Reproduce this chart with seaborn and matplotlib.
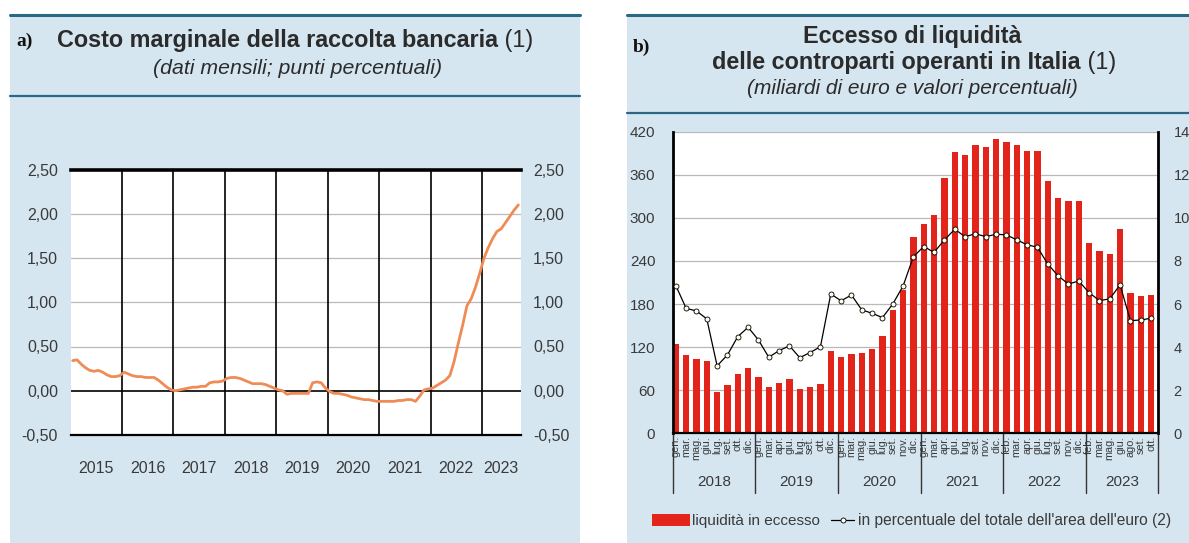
import numpy as np
import pandas as pd
import matplotlib
matplotlib.use("Agg")
import matplotlib.pyplot as plt
import seaborn as sns
from matplotlib.patches import Rectangle
from matplotlib.lines import Line2D
from matplotlib.ticker import FuncFormatter, FixedLocator

# ---------------- Panel a data (monthly, Jan 2015 - Sep 2023) ----------------
cost_years = ["2015", "2016", "2017", "2018", "2019", "2020", "2021", "2022", "2023"]
cost_values = [
    0.34, 0.35, 0.30, 0.26, 0.23, 0.22, 0.23, 0.21, 0.18, 0.16, 0.16, 0.17,   # 2015
    0.21, 0.19, 0.17, 0.16, 0.16, 0.15, 0.15, 0.15, 0.12, 0.08, 0.04, 0.01,   # 2016
    0.00, 0.01, 0.02, 0.03, 0.04, 0.04, 0.05, 0.05, 0.09, 0.10, 0.10, 0.11,   # 2017
    0.14, 0.15, 0.15, 0.14, 0.12, 0.10, 0.08, 0.08, 0.08, 0.07, 0.05, 0.03,   # 2018
    0.01, 0.00, -0.04, -0.03, -0.03, -0.03, -0.03, -0.03, 0.09, 0.10, 0.09, 0.03,  # 2019
    -0.01, -0.03, -0.03, -0.04, -0.05, -0.07, -0.08, -0.09, -0.10, -0.10, -0.11, -0.12,  # 2020
    -0.12, -0.12, -0.12, -0.12, -0.11, -0.11, -0.10, -0.10, -0.12, -0.06, 0.01, 0.02,  # 2021
    0.03, 0.06, 0.09, 0.12, 0.17, 0.33, 0.54, 0.74, 0.96, 1.04, 1.17, 1.33,   # 2022
    1.50, 1.62, 1.72, 1.80, 1.83, 1.90, 1.97, 2.04, 2.10,                     # 2023
]
cost_yticks = [-0.5, 0.0, 0.5, 1.0, 1.5, 2.0, 2.5]

# ---------------- Panel b data (reserve maintenance periods) ----------------
liq_years = ["2018", "2019", "2020", "2021", "2022", "2023"]
liq_counts = [8, 8, 8, 8, 8, 7]
liq_months = [
    "gen.", "mar.", "mag.", "giu.", "lug.", "set.", "ott.", "dic.",
    "gen.", "mar.", "apr.", "giu.", "lug.", "set.", "ott.", "dic.",
    "gen.", "mar.", "mag.", "giu.", "lug.", "set.", "nov.", "dic.",
    "gen.", "mar.", "apr.", "giu.", "lug.", "set.", "nov.", "dic.",
    "feb.", "mar.", "apr.", "giu.", "lug.", "set.", "nov.", "dic.",
    "feb.", "mar.", "mag.", "giu.", "ago.", "set.", "ott.",
]
liq_values = [
    125, 109, 103, 100, 57, 67, 83, 91,
    78, 65, 70, 75, 62, 65, 68, 115,
    106, 111, 112, 118, 136, 172, 200, 274,
    292, 304, 355, 392, 388, 402, 399, 410,
    405, 402, 393, 393, 351, 328, 323, 324,
    265, 254, 250, 285, 195, 191, 193,
]
liq_pct = [
    6.86, 5.80, 5.68, 5.31, 3.13, 3.64, 4.49, 4.92,
    4.33, 3.53, 3.84, 4.06, 3.51, 3.75, 4.02, 6.47,
    6.15, 6.42, 5.73, 5.57, 5.37, 6.00, 6.84, 8.20,
    8.67, 8.40, 8.98, 9.47, 9.13, 9.26, 9.13, 9.24,
    9.21, 8.98, 8.75, 8.64, 7.86, 7.31, 6.93, 7.07,
    6.53, 6.16, 6.24, 6.89, 5.23, 5.26, 5.34,
]
liq_left_ticks = [0, 60, 120, 180, 240, 300, 360, 420]
liq_right_ticks = [0, 2, 4, 6, 8, 10, 12, 14]

# ---------------- style ----------------
sns.set_theme(style="white")
plt.rcParams["font.family"] = ["Liberation Sans", "DejaVu Sans"]

W, H = 1189, 543
fig = plt.figure(figsize=(W / 100, H / 100), dpi=100)
fig.patch.set_facecolor("white")

PANEL = "#d5e6f1"
HEAD_LINE = "#2d6786"
TXT = "#2b2b2b"
TICK = "#3a3a3a"
RED = "#e3241b"
ORANGE = "#ef8c56"


def fx(px):
    return px / W


def fy(py):
    return 1 - py / H


# panel backgrounds and header rules
for x0, x1, yline in [(10, 580, 96), (627, 1189, 113)]:
    fig.patches.append(Rectangle((fx(x0), 0), fx(x1 - x0), fy(15), transform=fig.transFigure,
                                 facecolor=PANEL, edgecolor="none", zorder=-5))
    fig.lines.append(Line2D([fx(x0), fx(x1)], [fy(15), fy(15)], transform=fig.transFigure,
                            color=HEAD_LINE, lw=2.2, zorder=-4))
    fig.lines.append(Line2D([fx(x0), fx(x1)], [fy(yline), fy(yline)], transform=fig.transFigure,
                            color=HEAD_LINE, lw=1.6, zorder=-4))

renderer = fig.canvas.get_renderer()


def composite(xc, y, parts, size):
    objs = []
    widths = []
    for s, wgt, sty in parts:
        t = fig.text(0, fy(y), s, fontsize=size, fontweight=wgt, fontstyle=sty,
                     va="center", ha="left", color=TXT)
        widths.append(t.get_window_extent(renderer).width)
        objs.append(t)
    x = xc - sum(widths) / 2
    for t, wd in zip(objs, widths):
        t.set_position((fx(x), fy(y)))
        x += wd


# titles panel a
fig.text(fx(16), fy(41), "a)", fontsize=14, fontweight="bold", family="Liberation Serif",
         va="center", ha="left", color="#111111")
composite(295, 41, [("Costo marginale della raccolta bancaria", "bold", "normal"),
                    (" (1)", "normal", "normal")], 16.8)
composite(298, 68, [("(dati mensili; punti percentuali)", "normal", "italic")], 15.3)

# titles panel b
fig.text(fx(633), fy(47), "b)", fontsize=14, fontweight="bold", family="Liberation Serif",
         va="center", ha="left", color="#111111")
composite(912, 37, [("Eccesso di liquidità", "bold", "normal")], 16.8)
composite(914, 63, [("delle controparti operanti in Italia", "bold", "normal"),
                    (" (1)", "normal", "normal")], 16.8)
composite(912, 88, [("(miliardi di euro e valori percentuali)", "normal", "italic")], 15)

# ---------------- Panel a ----------------
axA = fig.add_axes([fx(70.5), fy(435), fx(450), 265.5 / H])
axA.set_facecolor("white")
n_a = len(cost_values)
df_a = pd.DataFrame({"t": np.arange(n_a), "v": cost_values})
sns.lineplot(data=df_a, x="t", y="v", ax=axA, color=ORANGE, lw=2.0, zorder=5)
axA.set_xlim(-0.5, n_a - 0.5)
axA.set_ylim(-0.5, 2.5)
for v in [0.5, 1.0, 1.5, 2.0]:
    axA.axhline(v, color="#b9b9b9", lw=0.9, zorder=1)
axA.axhline(0.0, color="black", lw=1.2, zorder=2)
for k in range(1, len(cost_years)):
    axA.axvline(12 * k - 0.5, color="black", lw=1.2, zorder=2)
for s in ["left", "right"]:
    axA.spines[s].set_visible(False)
axA.spines["top"].set_color("black")
axA.spines["top"].set_linewidth(2.6)
axA.spines["bottom"].set_color("black")
axA.spines["bottom"].set_linewidth(1.6)
axA.set_xlabel("")
axA.set_ylabel("")
axA.yaxis.set_major_locator(FixedLocator(cost_yticks))
axA.yaxis.set_major_formatter(FuncFormatter(lambda v, p: f"{v:.2f}".replace(".", ",")))
axA.tick_params(axis="y", length=0, labelsize=11.5, labelcolor=TICK, pad=9,
                labelleft=True, labelright=True)
mid_year = [12 * k + 5.5 for k in range(len(cost_years))]
month_edges = [m - 0.5 for m in range(1, n_a) if m % 12 != 0]
axA.xaxis.set_major_locator(FixedLocator(mid_year))
axA.xaxis.set_minor_locator(FixedLocator(month_edges))
axA.set_xticklabels([])
axA.tick_params(axis="x", which="major", direction="in", length=6, width=1.0, color="black")
axA.tick_params(axis="x", which="minor", direction="in", length=3, width=1.0, color="black")
for k, yr in enumerate(cost_years):
    start = 12 * k - 0.5
    end = min(12 * k + 11.5, n_a - 0.5)
    axA.text((start + end) / 2, -0.125, yr, transform=axA.get_xaxis_transform(),
             ha="center", va="center", fontsize=11.5, color=TICK)

# ---------------- Panel b ----------------
axB = fig.add_axes([fx(672.7), fy(433.3), fx(485.6), 301.6 / H])
axB.set_facecolor("white")
n_b = len(liq_values)
bw = 0.6
df_b = pd.DataFrame({"pos": np.arange(n_b), "val": liq_values, "pct": liq_pct})
sns.barplot(data=df_b, x="pos", y="val", ax=axB, color=RED, saturation=1, width=bw,
            native_scale=True, errorbar=None, zorder=2, linewidth=0)
axB.set_xlim(-bw / 2, n_b - bw / 2)
axB.set_ylim(0, 420)
axB.set_axisbelow(True)
axB.yaxis.set_major_locator(FixedLocator(liq_left_ticks))
axB.grid(axis="y", color="#b9b9b9", lw=0.9)
axB.grid(axis="x", visible=False)
axB.tick_params(axis="y", length=0, labelsize=11, labelcolor=TICK, pad=12.5)
axB.set_xlabel("")
axB.set_ylabel("")
axB.xaxis.set_major_locator(FixedLocator(list(range(n_b))))
axB.set_xticklabels(liq_months, rotation=90, fontsize=7.8, color=TICK)
axB.tick_params(axis="x", length=0, pad=2)
for lab in axB.get_xticklabels():
    lab.set_va("top")
axB.spines["top"].set_visible(False)
axB.spines["right"].set_visible(False)
axB.spines["left"].set_color("black")
axB.spines["left"].set_linewidth(2.0)
axB.spines["bottom"].set_color("black")
axB.spines["bottom"].set_linewidth(1.6)
axB.spines["bottom"].set_zorder(4)

axB2 = axB.twinx()
sns.lineplot(data=df_b, x="pos", y="pct", ax=axB2, color="black", lw=0.9, marker="o",
             markersize=3.6, markerfacecolor="#fffbe8", markeredgecolor="black",
             markeredgewidth=0.6, zorder=5)
axB2.set_ylim(0, 14)
axB2.set_xlim(-bw / 2, n_b - bw / 2)
axB2.yaxis.set_major_locator(FixedLocator(liq_right_ticks))
axB2.tick_params(axis="y", length=0, labelsize=10.5, labelcolor=TICK, pad=11)
axB2.set_ylabel("")
for s in ["top", "left", "bottom"]:
    axB2.spines[s].set_visible(False)
axB2.spines["right"].set_color("black")
axB2.spines["right"].set_linewidth(2.0)
axB2.grid(False)

# year groups under the month labels
bounds = np.concatenate([[0], np.cumsum(liq_counts)]) - bw / 2
sep_depth = -60 / 301.6
for b in bounds:
    axB.add_line(Line2D([b, b], [0, sep_depth], transform=axB.get_xaxis_transform(),
                        color="#333333", lw=1.0, clip_on=False))
for i, yr in enumerate(liq_years):
    axB.text((bounds[i] + bounds[i + 1]) / 2, -48.5 / 301.6, yr,
             transform=axB.get_xaxis_transform(), ha="center", va="center",
             fontsize=11, color=TICK)

# legend
h1 = Rectangle((0, 0), 1, 1, facecolor=RED, edgecolor="none")
h2 = Line2D([], [], color="black", lw=0.9, marker="o", markersize=3.6,
            markerfacecolor="white", markeredgecolor="black", markeredgewidth=0.6)
fig.legend([h1], ["liquidità in eccesso"], loc="center left",
           bbox_to_anchor=(fx(652), fy(521)), frameon=False, fontsize=11,
           handlelength=2.5, handleheight=0.8, handletextpad=0.15,
           borderpad=0, borderaxespad=0, labelcolor=TICK)
fig.legend([h2], ["in percentuale del totale dell'area dell'euro (2)"], loc="center left",
           bbox_to_anchor=(fx(831), fy(521)), frameon=False, fontsize=11.2,
           handlelength=1.5, handletextpad=0.25, borderpad=0, borderaxespad=0,
           labelcolor=TICK)

fig.savefig("out.png", dpi=100, facecolor="white")
